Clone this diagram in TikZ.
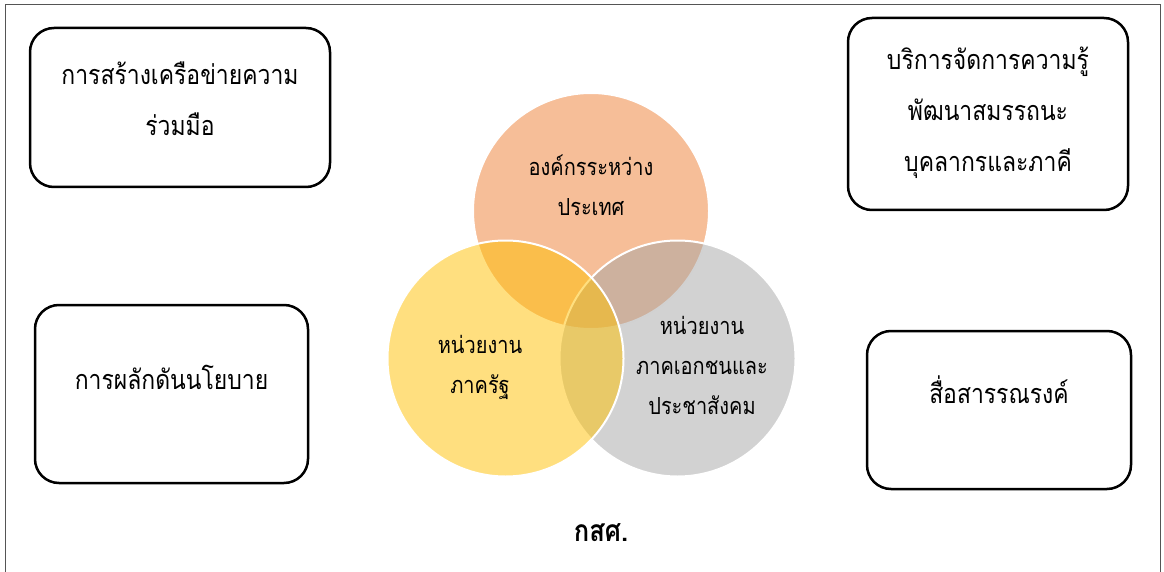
\documentclass[tikz,border=0pt]{standalone}
\usepackage{fontspec}
\newfontfamily\thai[Script=Thai, FakeStretch=0.85]{Loma}
\definecolor{cOrange}{HTML}{ED7D31}
\definecolor{cGold}{HTML}{FFC000}
\definecolor{cGray}{HTML}{A5A5A5}
\definecolor{frameGray}{HTML}{555555}
\begin{document}
\begin{tikzpicture}[x=1pt,y=-1pt,
  box/.style={draw=black, line width=2.5pt, rounded corners=24pt, inner sep=0pt},
  boxtext/.style={font=\thai\fontsize{27}{51}\selectfont, align=center, inner sep=0pt},
  circ/.style={circle, draw=white, line width=2pt, fill opacity=0.5, draw opacity=1, inner sep=0pt, minimum size=236pt},
  circtext/.style={font=\thai\fontsize{23.5}{40}\selectfont, align=center, inner sep=0pt}]
\useasboundingbox (0,0) rectangle (1164,572);
\draw[frameGray, line width=1pt] (5,590) -- (5,5) -- (1160,5) -- (1160,590);
% boxes
\node[box, minimum width=300pt, minimum height=159pt] (b1) at (180,107.5) {};
\node[box, minimum width=280pt, minimum height=192pt] (b2) at (988,114) {};
\node[box, minimum width=273pt, minimum height=178pt] (b3) at (171.5,394) {};
\node[box, minimum width=264pt, minimum height=158pt] (b4) at (999,410) {};
\node[boxtext] (t1) at (180,98.5) {การสร้างเครือข่ายความ\\ร่วมมือ};
\node[boxtext] (t2) at (988,113) {บริการจัดการความรู้\\พัฒนาสมรรถนะ\\บุคลากรและภาคี};
\node[boxtext] (t3) at (171.5,377) {การผลักดันนโยบาย};
\node[boxtext] (t4) at (999,390) {สื่อสารรณรงค์};
% circles
\node[circ, fill=cOrange] (c1) at (591,211) {};
\node[circ, fill=cGray] (c3) at (677.5,358.5) {};
\node[circ, fill=cGold] (c2) at (505.5,358.5) {};
\node[circtext] (ct1) at (591,185) {องค์กรระหว่าง\\ประเทศ};
\node[circtext] (ct2) at (480,367) {หน่วยงาน\\ภาครัฐ};
\node[circtext] (ct3) at (702,365) {หน่วยงาน\\ภาคเอกชนและ\\ประชาสังคม};
\node[font=\thai\bfseries\fontsize{30}{34}\selectfont, inner sep=0pt] (title) at (601,533) {กสศ.};
\end{tikzpicture}
\end{document}
